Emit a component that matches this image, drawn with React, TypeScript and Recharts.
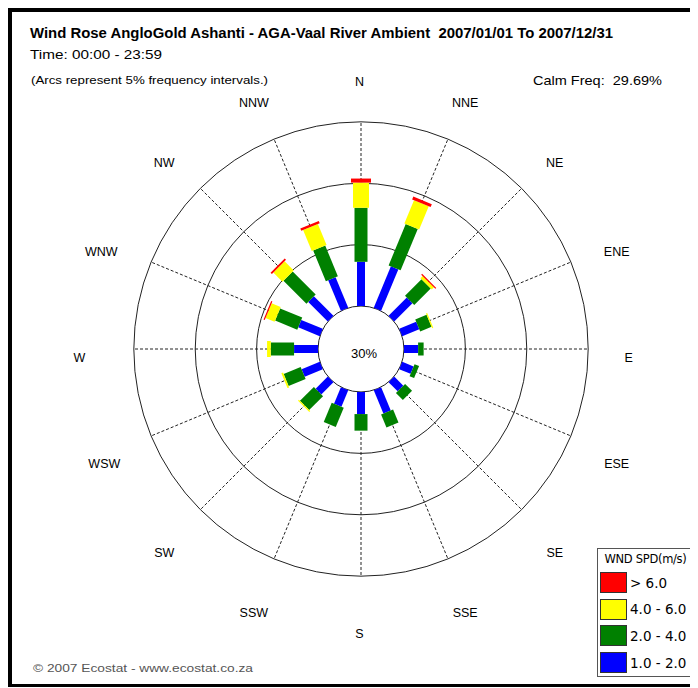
import { RadarChart, PolarGrid, PolarAngleAxis, ScatterChart, XAxis, YAxis, Scatter, ReferenceLine } from "recharts"

const directions = ["N", "NNE", "NE", "ENE", "E", "ESE", "SE", "SSE", "S", "SSW", "SW", "WSW", "W", "WNW", "NW", "NNW"]

// frequency (%) by direction for each wind speed class (m/s)
const speed1to2 = [3.6, 3.65, 2.1, 1.5, 1.15, 1.0, 1.05, 2.05, 1.8, 1.45, 1.4, 1.6, 1.95, 1.9, 2.25, 2.7]
const speed2to4 = [4.4, 3.65, 1.9, 1.0, 0.45, 0.4, 0.8, 1.15, 1.35, 1.7, 1.6, 1.5, 1.9, 1.95, 2.65, 2.7]
const speed4to6 = [2.05, 2.05, 0.25, 0.1, 0, 0, 0, 0, 0, 0, 0.1, 0.15, 0.3, 0.8, 1.05, 1.85]
const speedOver6 = [0.33, 0.25, 0.1, 0, 0, 0, 0, 0, 0, 0, 0, 0, 0, 0.1, 0.15, 0.2]

const speedLabels = ["1.0 - 2.0", "2.0 - 4.0", "4.0 - 6.0", "> 6.0"]
const calmFreq = 29.69
const arcInterval = 5
const arcCount = 3

// styling
const classColors = ["#0000ff", "#008000", "#ffff00", "#ff0000"]
const classWidths = [8, 13, 16, 20]
const FONT = "'Liberation Sans', Arial, sans-serif"
const LEGEND_FONT = "'DejaVu Sans', Verdana, sans-serif"

// geometry: chart units are percent, the calm circle adds a fixed offset
const SIZE = 614
const HALF = 25
const K = SIZE / (2 * HALF)
const CALM = 3.5
const LEFT = 46
const TOP = 34

const speedClasses = [speed1to2, speed2to4, speed4to6, speedOver6]

const roseData = directions.map((dir, i) => ({
  dir,
  total: speedClasses.reduce((s, arr) => s + arr[i], 0),
}))

const gridRadii = Array.from({ length: arcCount + 1 }, (_, i) => (CALM + i * arcInterval) * K)
const gridAngles = directions.map((_, i) => 90 - (i * 360) / directions.length)

const segments = directions.flatMap((dir, i) => {
  const a = ((i * 360) / directions.length) * (Math.PI / 180)
  const sx = Math.sin(a)
  const cy = Math.cos(a)
  let r = CALM
  const out: any[] = []
  speedClasses.forEach((arr, c) => {
    const v = arr[i]
    const r0 = r
    r += v
    if (v <= 0) return
    out.push({
      key: `${dir}-${c}`,
      p: [
        { x: r0 * sx, y: r0 * cy },
        { x: r * sx, y: r * cy },
      ],
      color: classColors[c],
      width: classWidths[c],
    })
  })
  return out
})

// the labels on the east side sit a little closer in than those on the west
const tickNudge: Record<string, number> = { E: -7, W: -4, WNW: -3, ENE: 2, ESE: 2 }

function DirectionTick(props: any) {
  const { x, y, payload } = props
  return (
    <text x={x - 1.5 + (tickNudge[payload.value] || 0)} y={y + 13} textAnchor="middle" fontSize={12.5} fontFamily={FONT} fill="#000">
      {payload.value}
    </text>
  )
}

function CalmLabel(props: any) {
  return (
    <text x={props.cx + 3} y={props.cy + 9} textAnchor="middle" fontSize={13} fontFamily={FONT} fill="#000">
      {Math.round(calmFreq)}%
    </text>
  )
}

export default function App() {
  const legendRows = speedLabels.map((label, i) => ({ label, color: classColors[i] })).reverse()
  return (
    <div style={{ position: "relative", width: 690, height: 680, background: "#fff", fontFamily: FONT }}>
      <div
        style={{
          position: "absolute",
          left: 0,
          top: 0,
          width: 690,
          height: 679,
          borderLeft: "4px solid #000",
          borderTop: "4px solid #000",
          borderBottom: "3px solid #000",
          boxSizing: "border-box",
        }}
      />
      <div style={{ position: "absolute", left: LEFT, top: TOP }}>
        <RadarChart width={SIZE} height={SIZE} cx={SIZE / 2} cy={SIZE / 2} innerRadius={CALM * K} outerRadius={(CALM + arcCount * arcInterval) * K} data={roseData} margin={{ top: 0, right: 0, bottom: 0, left: 0 }}>
          <PolarGrid gridType="circle" polarRadius={gridRadii} polarAngles={gridAngles} radialLines={false} stroke="#222" strokeWidth={1} />
          <PolarGrid gridType="circle" polarRadius={[]} polarAngles={gridAngles} stroke="#222" strokeWidth={1} strokeDasharray="3 2" />
          <PolarAngleAxis dataKey="dir" tickSize={49} tickLine={false} axisLine={false} tick={<DirectionTick />} />
        </RadarChart>
      </div>
      <div style={{ position: "absolute", left: LEFT, top: TOP }}>
        <ScatterChart width={SIZE} height={SIZE} margin={{ top: 0, right: 0, bottom: 0, left: 0 }}>
          <XAxis type="number" dataKey="x" domain={[-HALF, HALF]} allowDataOverflow hide />
          <YAxis type="number" dataKey="y" domain={[-HALF, HALF]} allowDataOverflow hide />
          {segments.map((s) => (
            <ReferenceLine key={s.key} segment={s.p} stroke={s.color} strokeWidth={s.width} />
          ))}
          <Scatter data={[{ x: 0, y: 0 }]} shape={<CalmLabel />} isAnimationActive={false} />
        </ScatterChart>
      </div>
      <svg width={690} height={680} style={{ position: "absolute", left: 0, top: 0, pointerEvents: "none" }}>
        <text x={22} y={30} fontSize={14} fontWeight="bold" fontFamily={FONT} textLength={583} lengthAdjust="spacingAndGlyphs">
          Wind Rose AngloGold Ashanti - AGA-Vaal River Ambient{"\u00a0\u00a0"}2007/01/01 To 2007/12/31
        </text>
        <text x={22} y={51} fontSize={13.5} fontFamily={FONT} textLength={132} lengthAdjust="spacingAndGlyphs">
          Time: 00:00 - 23:59
        </text>
        <text x={23} y={76} fontSize={11} fontFamily={FONT} textLength={237} lengthAdjust="spacingAndGlyphs">
          (Arcs represent 5% frequency intervals.)
        </text>
        <text x={525} y={77} fontSize={13} fontFamily={FONT} textLength={129} lengthAdjust="spacingAndGlyphs">
          Calm Freq:{"\u00a0\u00a0"}{calmFreq.toFixed(2)}%
        </text>
        <text x={25} y={664} fontSize={11.5} fontFamily={FONT} fill="#555" textLength={220} lengthAdjust="spacingAndGlyphs">
          © 2007 Ecostat - www.ecostat.co.za
        </text>
      </svg>
      <div
        style={{
          position: "absolute",
          left: 589,
          top: 540,
          width: 97,
          height: 129,
          border: "1px solid #555",
          background: "#fff",
          boxSizing: "border-box",
          fontFamily: LEGEND_FONT,
        }}
      >
        <div style={{ fontSize: 11.5, textAlign: "center", marginTop: 3, whiteSpace: "nowrap", letterSpacing: -0.3 }}>WND SPD(m/s)</div>
        {legendRows.map((row, i) => (
          <div key={row.label} style={{ position: "absolute", left: 2, top: 23 + i * 26.7, display: "flex", alignItems: "center" }}>
            <div style={{ width: 27, height: 21, background: row.color, border: "1px solid #333", boxSizing: "border-box" }} />
            <span style={{ fontSize: 13.5, marginLeft: 3, whiteSpace: "nowrap" }}>{row.label}</span>
          </div>
        ))}
      </div>
    </div>
  )
}
